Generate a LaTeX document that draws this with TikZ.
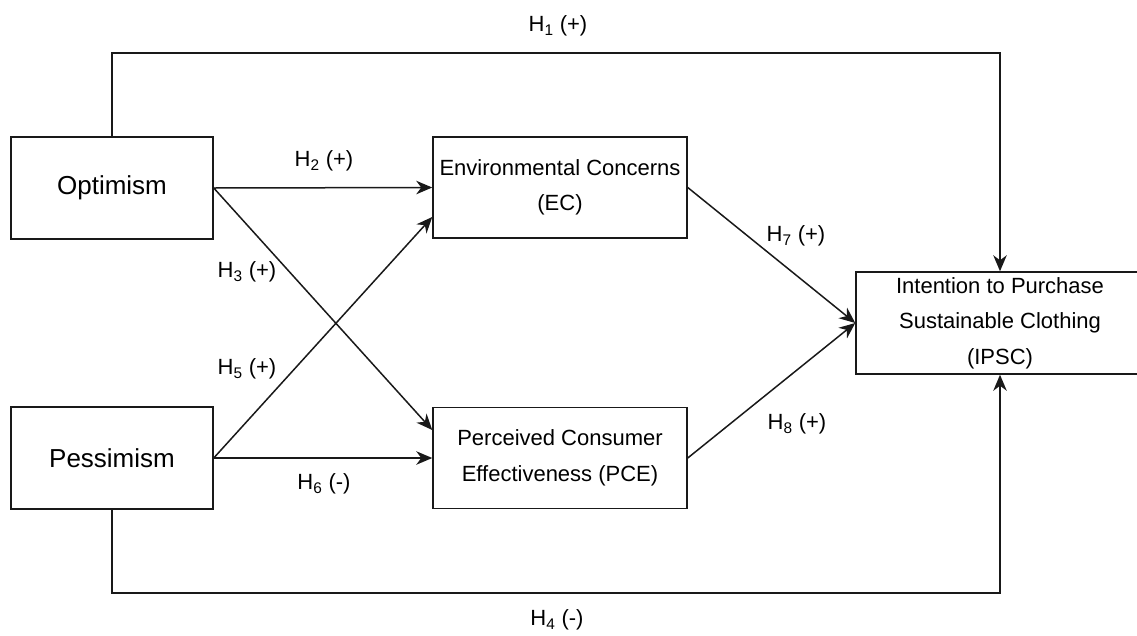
\documentclass[tikz,border=0pt]{standalone}
\usepackage{fontspec}
\setmainfont{Liberation Sans}
\usetikzlibrary{arrows.meta}

\begin{document}
\begin{tikzpicture}[
  x=1pt,y=-1pt,
  box/.style={draw=black!90,line width=1.5pt,fill=white,align=center,
              inner sep=0pt,font=\fontsize{22}{35.5}\selectfont},
  outerbox/.style={box,minimum width=202pt,minimum height=102pt,
                   font=\fontsize{26}{30}\selectfont},
  innerbox/.style={box,minimum width=254pt,minimum height=101pt},
  link/.style={line width=1.5pt,black!90,
               -{Stealth[length=16pt,width=13.5pt,inset=5pt]}},
  hyp/.style={font=\fontsize{22}{26}\selectfont,inner sep=0pt},
]
\useasboundingbox (0,0) rectangle (1137,635);

% ---- constructs ----
\node[outerbox] (opt)  at (112,188) {Optimism};
\node[outerbox] (pess) at (112,458) {Pessimism};
\node[innerbox] (ec)   at (560,187.5) {Environmental Concerns\\(EC)};
\node[innerbox] (pce)  at (560,458) {Perceived Consumer\\Effectiveness (PCE)};
\node[box,minimum width=288pt,minimum height=102pt] (ipsc) at (1000,323)
      {Intention to Purchase\\Sustainable Clothing\\(IPSC)};

% ---- direct paths round the outside ----
\coordinate (top) at (560,53);
\coordinate (bot) at (560,593);
\draw[link] (opt.north) |- (top) -| (ipsc.north);
\draw[link] (pess.south) |- (bot) -| (ipsc.south);

% ---- paths through the mediators ----
\draw[link] (opt.east)  -- (ec.west);
\draw[link] (opt.east)  -- ([yshift=28pt]pce.west);
\draw[link] (pess.east) -- ([yshift=-29.5pt]ec.west);
\draw[link] (pess.east) -- (pce.west);
\draw[link] (ec.east)   -- (ipsc.west);
\draw[link] (pce.east)  -- (ipsc.west);

% ---- hypotheses ----
\node[hyp] (h1) at (558,26)  {H\textsubscript{1} (+)};
\node[hyp] (h2) at (324,161) {H\textsubscript{2} (+)};
\node[hyp] (h3) at (247,272) {H\textsubscript{3} (+)};
\node[hyp] (h4) at (557,620) {H\textsubscript{4} (-)};
\node[hyp] (h5) at (247,369) {H\textsubscript{5} (+)};
\node[hyp] (h6) at (324,484) {H\textsubscript{6} (-)};
\node[hyp] (h7) at (796,236) {H\textsubscript{7} (+)};
\node[hyp] (h8) at (797,424) {H\textsubscript{8} (+)};

\end{tikzpicture}
\end{document}
